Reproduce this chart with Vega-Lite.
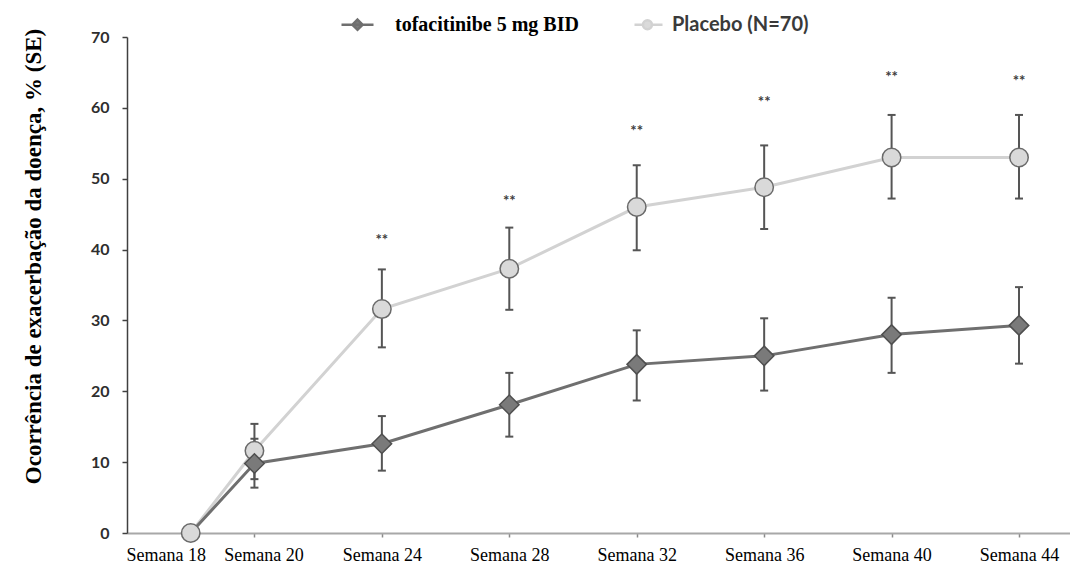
{
  "$schema": "https://vega.github.io/schema/vega-lite/v6.json",
  "width": 943,
  "height": 496,
  "autosize": {"type": "none"},
  "padding": {"left": 127, "top": 37, "right": 0, "bottom": 48},
  "background": "white",
  "config": {"view": {"stroke": null}},
  "datasets": {
    "d": [
      {"group": "Placebo (N=70)", "semana": "Semana 18", "pos": 0.5, "val": 0, "lo": null, "hi": null, "star_y": null},
      {"group": "Placebo (N=70)", "semana": "Semana 20", "pos": 1, "val": 11.6, "lo": 7.6, "hi": 15.4, "star_y": null},
      {"group": "Placebo (N=70)", "semana": "Semana 24", "pos": 2, "val": 31.6, "lo": 26.2, "hi": 37.2, "star_y": 41.3},
      {"group": "Placebo (N=70)", "semana": "Semana 28", "pos": 3, "val": 37.3, "lo": 31.5, "hi": 43.1, "star_y": 46.8},
      {"group": "Placebo (N=70)", "semana": "Semana 32", "pos": 4, "val": 46.0, "lo": 39.9, "hi": 51.9, "star_y": 56.7},
      {"group": "Placebo (N=70)", "semana": "Semana 36", "pos": 5, "val": 48.8, "lo": 42.9, "hi": 54.7, "star_y": 60.8},
      {"group": "Placebo (N=70)", "semana": "Semana 40", "pos": 6, "val": 53.0, "lo": 47.2, "hi": 59.0, "star_y": 64.3},
      {"group": "Placebo (N=70)", "semana": "Semana 44", "pos": 7, "val": 53.0, "lo": 47.2, "hi": 59.0, "star_y": 63.8},
      {"group": "tofacitinibe 5 mg BID", "semana": "Semana 18", "pos": 0.5, "val": 0, "lo": null, "hi": null, "star_y": null},
      {"group": "tofacitinibe 5 mg BID", "semana": "Semana 20", "pos": 1, "val": 9.8, "lo": 6.4, "hi": 13.3, "star_y": null},
      {"group": "tofacitinibe 5 mg BID", "semana": "Semana 24", "pos": 2, "val": 12.6, "lo": 8.8, "hi": 16.5, "star_y": null},
      {"group": "tofacitinibe 5 mg BID", "semana": "Semana 28", "pos": 3, "val": 18.1, "lo": 13.6, "hi": 22.6, "star_y": null},
      {"group": "tofacitinibe 5 mg BID", "semana": "Semana 32", "pos": 4, "val": 23.8, "lo": 18.7, "hi": 28.6, "star_y": null},
      {"group": "tofacitinibe 5 mg BID", "semana": "Semana 36", "pos": 5, "val": 25.0, "lo": 20.1, "hi": 30.3, "star_y": null},
      {"group": "tofacitinibe 5 mg BID", "semana": "Semana 40", "pos": 6, "val": 28.0, "lo": 22.6, "hi": 33.2, "star_y": null},
      {"group": "tofacitinibe 5 mg BID", "semana": "Semana 44", "pos": 7, "val": 29.3, "lo": 23.9, "hi": 34.7, "star_y": null}
    ]
  },
  "data": {"name": "d"},
  "encoding": {
    "x": {
      "field": "pos",
      "type": "quantitative",
      "scale": {"domain": [0, 7.4], "nice": false, "zero": false},
      "axis": {
        "title": null,
        "values": [0.5, 1, 2, 3, 4, 5, 6, 7],
        "labelExpr": "'Semana ' + (16 + 4 * datum.value)",
        "labelFont": "Liberation Serif",
        "labelFontSize": 18,
        "labelColor": "#000000",
        "labelPadding": 9,
        "labelFlush": false,
        "labelOverlap": false,
        "labelOffset": {"condition": [{"test": "datum.value == 0.5", "value": -25}, {"test": "datum.value == 1", "value": 9}], "value": 0},
        "domainColor": "#a8a8a8",
        "domainWidth": 2,
        "tickColor": "#8a8a8a",
        "tickSize": 4,
        "tickWidth": 1.5,
        "grid": false
      }
    }
  },
  "layer": [
    {
      "transform": [{"filter": "datum.lo != null"}],
      "mark": {"type": "rule", "color": "#555555", "strokeWidth": 2},
      "encoding": {
        "y": {
          "field": "lo",
          "type": "quantitative",
          "title": "Ocorrência de exacerbação da doença, % (SE)",
          "scale": {"domain": [0, 70], "nice": false},
          "axis": {
            "titleFont": "Liberation Serif",
            "titleFontSize": 23,
            "titleFontWeight": "bold",
            "titleColor": "#000000",
            "titleAngle": -90,
            "titleX": -94,
            "titleY": 219,
            "titleAlign": "center",
            "titleBaseline": "middle",
            "values": [0, 10, 20, 30, 40, 50, 60, 70],
            "labelFont": "Lato",
            "labelFontWeight": "bold",
            "labelFontSize": 16,
            "labelColor": "#2e2e2e",
            "labelPadding": 13,
            "domainColor": "#404040",
            "domainWidth": 1.5,
            "tickColor": "#404040",
            "tickSize": 5,
            "tickWidth": 1.5,
            "grid": false
          }
        },
        "y2": {"field": "hi"}
      }
    },
    {
      "transform": [{"filter": "datum.lo != null"}],
      "mark": {"type": "tick", "orient": "horizontal", "size": 8, "thickness": 2, "color": "#555555", "opacity": 1},
      "encoding": {"y": {"field": "lo", "type": "quantitative", "title": "Ocorrência de exacerbação da doença, % (SE)"}}
    },
    {
      "transform": [{"filter": "datum.hi != null"}],
      "mark": {"type": "tick", "orient": "horizontal", "size": 8, "thickness": 2, "color": "#555555", "opacity": 1},
      "encoding": {"y": {"field": "hi", "type": "quantitative", "title": "Ocorrência de exacerbação da doença, % (SE)"}}
    },
    {
      "transform": [{"filter": "datum.group == 'Placebo (N=70)'"}],
      "mark": {"type": "line", "strokeWidth": 3},
      "encoding": {
        "y": {"field": "val", "type": "quantitative", "title": "Ocorrência de exacerbação da doença, % (SE)"},
        "color": {
          "field": "group",
          "type": "nominal",
          "scale": {"domain": ["tofacitinibe 5 mg BID", "Placebo (N=70)"], "range": ["#6f6f6f", "#d2d2d2"]},
          "legend": {
            "orient": "none",
            "legendX": 213,
            "legendY": -30,
            "direction": "horizontal",
            "title": null,
            "padding": 0,
            "symbolSize": 1024,
            "symbolStrokeWidth": 2.5,
            "labelOffset": 20,
            "columnPadding": 38,
            "labelFont": "Liberation Serif",
            "labelFontSize": 20,
            "labelFontWeight": "bold",
            "labelColor": "#000000",
            "labelLimit": 400,
            "encode": {
              "symbols": {
                "update": {
                  "shape": {"signal": "datum.value === 'Placebo (N=70)' ? 'M0,0L0.53,0M1.09,0L1.75,0M0.53,0A0.28,0.28,0,1,0,1.09,0A0.28,0.28,0,1,0,0.53,0Z' : 'M-1,0L1,0M0,-0.32L0.32,0L0,0.32L-0.32,0Z'"},
                  "fill": {"signal": "datum.value === 'Placebo (N=70)' ? '#dadada' : '#7c7c7c'"},
                  "stroke": {"signal": "datum.value === 'Placebo (N=70)' ? '#b8b8b8' : '#6a6a6a'"},
                  "strokeWidth": {"value": 2.5},
                  "opacity": {"value": 1}
                }
              },
              "labels": {
                "update": {
                  "font": {"signal": "datum.value === 'Placebo (N=70)' ? 'Lato' : 'Liberation Serif'"},
                  "fontSize": {"value": 20},
                  "fill": {"signal": "datum.value === 'Placebo (N=70)' ? '#3a3a3a' : '#000000'"}
                }
              }
            }
          }
        }
      }
    },
    {
      "transform": [{"filter": "datum.group == 'Placebo (N=70)' && datum.pos > 0.5"}],
      "mark": {"type": "point", "shape": "circle", "filled": true, "size": 340, "fill": "#d9d9d9", "stroke": "#6a6a6a", "strokeWidth": 1.5, "opacity": 1},
      "encoding": {"y": {"field": "val", "type": "quantitative", "title": "Ocorrência de exacerbação da doença, % (SE)"}}
    },
    {
      "transform": [{"filter": "datum.group == 'tofacitinibe 5 mg BID'"}],
      "mark": {"type": "line", "strokeWidth": 3},
      "encoding": {
        "y": {"field": "val", "type": "quantitative", "title": "Ocorrência de exacerbação da doença, % (SE)"},
        "color": {
          "field": "group",
          "type": "nominal",
          "scale": {"domain": ["tofacitinibe 5 mg BID", "Placebo (N=70)"], "range": ["#6f6f6f", "#d2d2d2"]},
          "legend": null
        }
      }
    },
    {
      "transform": [{"filter": "datum.group == 'tofacitinibe 5 mg BID' && datum.pos > 0.5"}],
      "mark": {"type": "point", "shape": "diamond", "filled": true, "size": 380, "fill": "#7a7a7a", "stroke": "#4f4f4f", "strokeWidth": 1.5, "opacity": 1},
      "encoding": {"y": {"field": "val", "type": "quantitative", "title": "Ocorrência de exacerbação da doença, % (SE)"}}
    },
    {
      "transform": [{"filter": "datum.group == 'Placebo (N=70)' && datum.pos == 0.5"}],
      "mark": {"type": "point", "shape": "circle", "filled": true, "size": 340, "fill": "#d9d9d9", "stroke": "#6a6a6a", "strokeWidth": 1.5, "opacity": 1},
      "encoding": {"y": {"field": "val", "type": "quantitative", "title": "Ocorrência de exacerbação da doença, % (SE)"}}
    },
    {
      "transform": [{"filter": "datum.star_y != null"}],
      "mark": {"type": "text", "text": "**", "font": "Lato", "fontSize": 15, "fontWeight": "bold", "fill": "#3c3c3c", "baseline": "middle", "align": "center"},
      "encoding": {"y": {"field": "star_y", "type": "quantitative", "title": "Ocorrência de exacerbação da doença, % (SE)"}}
    }
  ]
}
